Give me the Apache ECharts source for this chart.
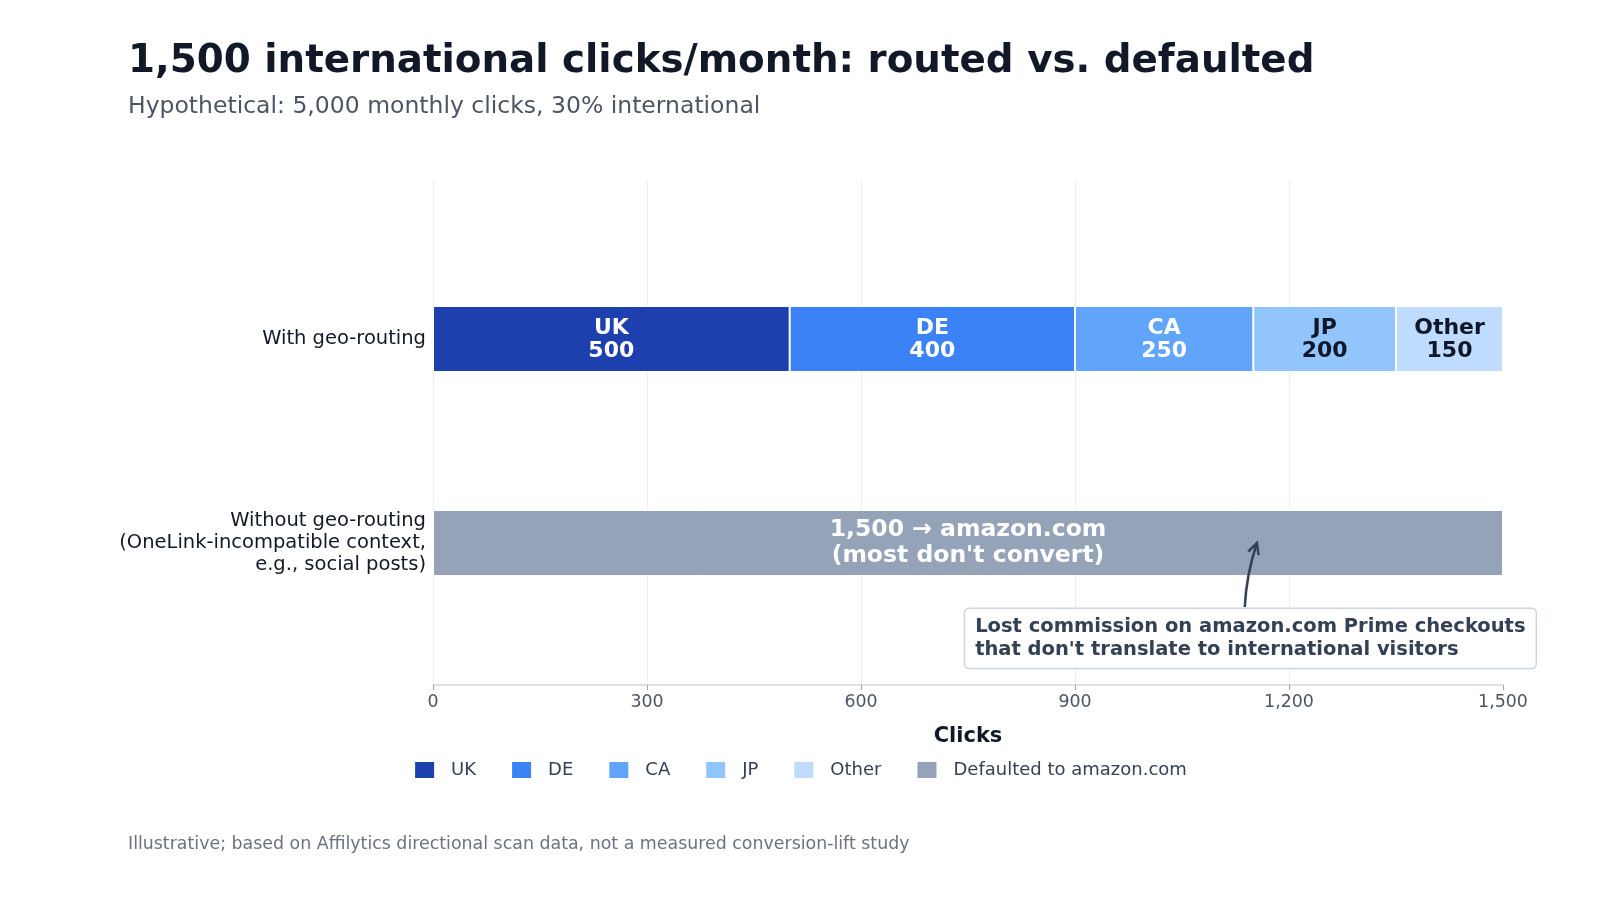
<!DOCTYPE html>
<html>
<head>
<meta charset="utf-8">
<script src="https://cdn.jsdelivr.net/npm/echarts@6/dist/echarts.min.js"></script>
<style>
  html, body { margin: 0; padding: 0; background: #fff; }
  #chart { width: 1600px; height: 900px; }
</style>
</head>
<body>
<div id="chart"></div>
<script>
  "use strict";
  var categories = [
    "With geo-routing",
    "Without geo-routing\n(OneLink-incompatible context,\ne.g., social posts)"
  ];
  var regions = ["UK", "DE", "CA", "JP", "Other"];
  var routedClicks = [500, 400, 250, 200, 150];
  var defaultedName = "Defaulted to amazon.com";
  var defaultedClicks = [1500];
  var xTicks = { min: 0, max: 1500, interval: 300 };
  // annotation anchors in data units (x clicks)
  var arrowTipX = 1155;
  var arrowTailX = 1138;
  var noteBoxX = 746;
  var noteText = "Lost commission on amazon.com Prime checkouts\nthat don't translate to international visitors";

  var regionColors = ["#1e40af", "#3b82f6", "#60a5fa", "#93c5fd", "#bfdbfe"];
  var labelColors = ["#ffffff", "#ffffff", "#ffffff", "#0f172a", "#0f172a"];
  var font = "DejaVu Sans";

  var chart = echarts.init(document.getElementById("chart"));

  var series = regions.map(function (r, i) {
    return {
      name: r,
      type: "bar",
      stack: "total",
      xAxisIndex: 1,
      yAxisIndex: 1,
      barWidth: 66,
      data: [routedClicks[i], "-"],
      itemStyle: { color: regionColors[i], borderColor: "#ffffff", borderWidth: 1 },
      label: {
        show: true,
        position: "inside",
        offset: [0, 1],
        formatter: function (p) { return r + "\n" + p.value; },
        color: labelColors[i],
        fontFamily: font,
        fontSize: 22,
        fontWeight: "bold",
        lineHeight: 23
      }
    };
  });
  series.push({
    name: defaultedName,
    type: "bar",
    stack: "total",
    xAxisIndex: 1,
    yAxisIndex: 1,
    barWidth: 66,
    data: ["-", defaultedClicks[0]],
    itemStyle: { color: "#94a3b8", borderColor: "#ffffff", borderWidth: 1 },
    label: {
      show: true,
      position: "inside",
      formatter: function (p) {
        return p.value.toLocaleString("en-US") + " \u2192 amazon.com\n(most don't convert)";
      },
      color: "#ffffff",
      fontFamily: font,
      fontSize: 23.5,
      fontWeight: "bold",
      lineHeight: 26.5
    }
  });

  var option = {
    backgroundColor: "#ffffff",
    animation: false,
    title: [
      {
        text: "1,500 international clicks/month: routed vs. defaulted",
        left: 123, top: 37,
        textStyle: { fontFamily: font, fontSize: 38.8, fontWeight: "bold", color: "#111827" }
      },
      {
        text: "Hypothetical: 5,000 monthly clicks, 30% international",
        left: 123, top: 90,
        textStyle: { fontFamily: font, fontSize: 23.5, fontWeight: "normal", color: "#4b5563" }
      },
      {
        text: "Illustrative; based on Affilytics directional scan data, not a measured conversion-lift study",
        left: 123, top: 831,
        textStyle: { fontFamily: font, fontSize: 17.4, fontWeight: "normal", color: "#6b7280" }
      }
    ],
    legend: {
      top: 755,
      left: "center",
      icon: "rect",
      itemWidth: 21,
      itemHeight: 18,
      itemGap: 34,
      data: regions.concat([defaultedName]),
      textStyle: { fontFamily: font, fontSize: 18, color: "#374151", padding: [0, 0, 0, 11] }
    },
    grid: [
      { left: 433, right: 97, top: 180, bottom: 215 },
      { left: 433, right: 97, top: 237, height: 408 }
    ],
    xAxis: [
      {
        gridIndex: 0,
        type: "value",
        min: xTicks.min, max: xTicks.max, interval: xTicks.interval,
        name: "Clicks",
        nameLocation: "middle",
        nameGap: 41,
        nameTextStyle: { fontFamily: font, fontSize: 21, fontWeight: "bold", color: "#111827" },
        axisLine: { show: true, lineStyle: { color: "#d1d5db", width: 1.5 } },
        axisTick: { show: true, length: 5, lineStyle: { color: "#9ca3af" } },
        axisLabel: {
          fontFamily: font, fontSize: 17.4, color: "#4b5563", margin: 9,
          formatter: function (v) { return v.toLocaleString("en-US"); }
        },
        splitLine: { show: true, showMaxLine: false, lineStyle: { color: "#eceef1", width: 1 } }
      },
      {
        gridIndex: 1,
        type: "value",
        min: xTicks.min, max: xTicks.max,
        show: false
      }
    ],
    yAxis: [
      { gridIndex: 0, type: "value", show: false },
      {
        gridIndex: 1,
        type: "category",
        inverse: true,
        data: categories,
        axisLine: { show: false },
        axisTick: { show: false },
        axisLabel: {
          fontFamily: font, fontSize: 19.5, color: "#111827", margin: 7,
          lineHeight: 22, align: "right", padding: [5, 0, 0, 0]
        }
      }
    ],
    series: series
  };
  chart.setOption(option);

  // annotation: arrow + note box placed from data coordinates
  var tip = chart.convertToPixel({ xAxisIndex: 1, yAxisIndex: 1 }, [arrowTipX, categories[1]]);
  var tail = chart.convertToPixel({ xAxisIndex: 1, yAxisIndex: 1 }, [arrowTailX, categories[1]]);
  var boxLeft = chart.convertToPixel({ xAxisIndex: 1, yAxisIndex: 1 }, [noteBoxX, categories[1]]);
  var boxTop = tip[1] + 66;
  var tailY = boxTop - 2;
  var cp = [tail[0] + 1.5, tip[1] + 32];
  var dx = tip[0] - cp[0], dy = tip[1] - cp[1];
  var len = Math.sqrt(dx * dx + dy * dy);
  var ux = dx / len, uy = dy / len;
  var headLen = 11, headW = 5.5;
  var hb = [tip[0] - ux * headLen, tip[1] - uy * headLen];
  var arrowColor = "#334155";

  chart.setOption({
    graphic: [
      {
        type: "bezierCurve",
        shape: { x1: tail[0], y1: tailY, cpx1: cp[0], cpy1: cp[1], x2: tip[0], y2: tip[1] },
        style: { stroke: arrowColor, lineWidth: 2.5, fill: null },
        z: 100
      },
      {
        type: "polyline",
        shape: {
          points: [
            [hb[0] - uy * headW, hb[1] + ux * headW],
            [tip[0], tip[1]],
            [hb[0] + uy * headW, hb[1] - ux * headW]
          ]
        },
        style: { stroke: arrowColor, lineWidth: 2.5, fill: null },
        z: 100
      },
      {
        type: "text",
        x: boxLeft[0],
        y: boxTop,
        z: 101,
        style: {
          text: noteText,
          fontFamily: font,
          fontSize: 19.5,
          fontWeight: "bold",
          lineHeight: 22.4,
          fill: "#334155",
          backgroundColor: "#ffffff",
          borderColor: "#cbd5e1",
          borderWidth: 1.5,
          borderRadius: 4,
          padding: [7, 10, 7, 10]
        }
      }
    ]
  });
</script>
</body>
</html>
